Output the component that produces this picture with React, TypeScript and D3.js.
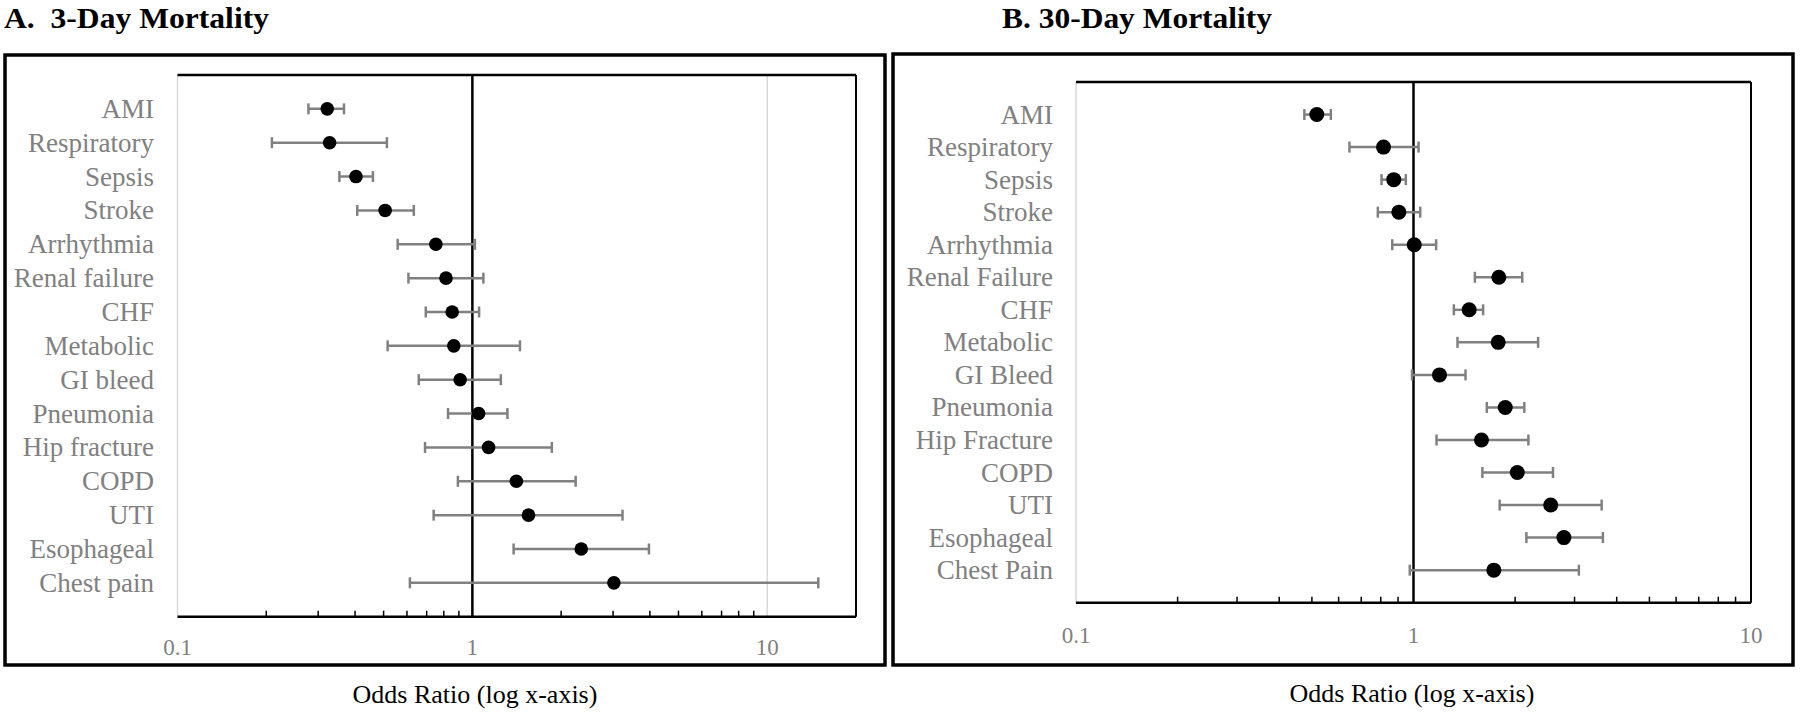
import React from "react";
import * as d3 from "d3";

const categoriesA = ["AMI", "Respiratory", "Sepsis", "Stroke", "Arrhythmia", "Renal failure", "CHF", "Metabolic", "GI bleed", "Pneumonia", "Hip fracture", "COPD", "UTI", "Esophageal", "Chest pain"];
const orA = [0.322, 0.328, 0.403, 0.506, 0.752, 0.814, 0.854, 0.865, 0.909, 1.05, 1.135, 1.41, 1.55, 2.34, 3.02];
const lowA = [0.278, 0.209, 0.354, 0.407, 0.558, 0.607, 0.695, 0.516, 0.658, 0.827, 0.691, 0.893, 0.739, 1.38, 0.614];
const highA = [0.367, 0.513, 0.46, 0.633, 1.02, 1.09, 1.054, 1.45, 1.249, 1.315, 1.86, 2.24, 3.23, 3.97, 14.9];

const categoriesB = ["AMI", "Respiratory", "Sepsis", "Stroke", "Arrhythmia", "Renal Failure", "CHF", "Metabolic", "GI Bleed", "Pneumonia", "Hip Fracture", "COPD", "UTI", "Esophageal", "Chest Pain"];
const orB = [0.517, 0.815, 0.874, 0.905, 1.005, 1.79, 1.462, 1.782, 1.194, 1.87, 1.59, 2.03, 2.55, 2.79, 1.73];
const lowB = [0.475, 0.646, 0.804, 0.784, 0.865, 1.52, 1.317, 1.35, 0.99, 1.649, 1.17, 1.6, 1.8, 2.16, 0.975];
const highB = [0.569, 1.035, 0.949, 1.047, 1.167, 2.1, 1.608, 2.34, 1.426, 2.13, 2.19, 2.59, 3.61, 3.64, 3.09];

const tickLabels = ["0.1", "1", "10"];
const minorTicks = [0.2, 0.3, 0.4, 0.5, 0.6, 0.7, 0.8, 0.9, 2, 3, 4, 5, 6, 7, 8, 9];

const SERIF = "'Liberation Serif', 'Times New Roman', serif";
const GRAY = "#808080";

type PanelProps = {
  title: string;
  titleX: number;
  titleW: number;
  frame: [number, number, number, number];
  plot: { left: number; right: number; top: number; bottom: number };
  xMax: number;
  cats: string[];
  or: number[];
  low: number[];
  high: number[];
  labelRight: number;
  tickY: number;
  axisTitleX: number;
  axisTitleY: number;
  dotR: number;
  grid10: boolean;
};

function Panel(p: PanelProps) {
  const x = d3.scaleLog().domain([0.1, p.xMax]).range([p.plot.left, p.plot.right]);
  const n = p.cats.length;
  const y = d3.scaleLinear().domain([0, n + 1]).range([p.plot.bottom, p.plot.top]);
  const rowY = (i: number) => y(n - i);
  const cap = 5.5;
  return (
    <g>
      <text x={p.titleX} y={28} fontFamily={SERIF} fontWeight="bold" fontSize={30} fill="#000" textLength={p.titleW} lengthAdjust="spacingAndGlyphs" style={{ whiteSpace: "pre" }}>
        {p.title}
      </text>
      <rect x={p.frame[0]} y={p.frame[1]} width={p.frame[2] - p.frame[0]} height={p.frame[3] - p.frame[1]} fill="#fff" stroke="#000" strokeWidth={3.5} />
      {/* left light gridline */}
      <line x1={p.plot.left} x2={p.plot.left} y1={p.plot.top} y2={p.plot.bottom} stroke="#d9d9d9" strokeWidth={1.5} />
      {p.grid10 && <line x1={x(10)} x2={x(10)} y1={p.plot.top} y2={p.plot.bottom} stroke="#d9d9d9" strokeWidth={1.5} />}
      {/* top and right borders */}
      <line x1={p.plot.left} x2={p.plot.right} y1={p.plot.top} y2={p.plot.top} stroke="#000" strokeWidth={2.5} />
      <line x1={p.plot.right} x2={p.plot.right} y1={p.plot.top} y2={p.plot.bottom} stroke="#000" strokeWidth={2} />
      {/* bottom axis */}
      <line x1={p.plot.left} x2={p.plot.right} y1={p.plot.bottom} y2={p.plot.bottom} stroke="#000" strokeWidth={2.5} />
      {minorTicks.filter((t) => t < p.xMax).map((t) => (
        <line key={t} x1={x(t)} x2={x(t)} y1={p.plot.bottom} y2={p.plot.bottom - 6} stroke="#000" strokeWidth={1.5} />
      ))}
      {/* x = 1 line */}
      <line x1={x(1)} x2={x(1)} y1={p.plot.top} y2={p.plot.bottom} stroke="#000" strokeWidth={2.5} />
      {tickLabels.map((t) => (
        <text key={t} x={x(+t)} y={p.tickY} textAnchor="middle" fontFamily={SERIF} fontSize={23} fill={GRAY}>
          {t}
        </text>
      ))}
      {p.cats.map((c, i) => (
        <text key={c} x={p.labelRight} y={rowY(i) + 9} textAnchor="end" fontFamily={SERIF} fontSize={27} fill={GRAY}>
          {c}
        </text>
      ))}
      {p.cats.map((c, i) => {
        const yy = rowY(i);
        return (
          <g key={"e" + c}>
            <line x1={x(p.low[i])} x2={x(p.high[i])} y1={yy} y2={yy} stroke={GRAY} strokeWidth={2.5} />
            <line x1={x(p.low[i])} x2={x(p.low[i])} y1={yy - cap} y2={yy + cap} stroke={GRAY} strokeWidth={2.5} />
            <line x1={x(p.high[i])} x2={x(p.high[i])} y1={yy - cap} y2={yy + cap} stroke={GRAY} strokeWidth={2.5} />
            <circle cx={x(p.or[i])} cy={yy} r={p.dotR} fill="#000" />
          </g>
        );
      })}
      <text x={p.axisTitleX} y={p.axisTitleY} textAnchor="middle" fontFamily={SERIF} fontSize={26} fill="#000">
        Odds Ratio (log x-axis)
      </text>
    </g>
  );
}

export default function App() {
  return (
    <svg width={1800} height={712} style={{ position: "absolute", left: 0, top: 0, background: "#fff" }}>
      <rect x={0} y={0} width={1800} height={712} fill="#fff" />
      <Panel
        title={"A.  3-Day Mortality"}
        titleX={4}
        titleW={265}
        frame={[5, 55, 885, 665]}
        plot={{ left: 177.5, right: 856, top: 75, bottom: 616.7 }}
        xMax={20}
        cats={categoriesA}
        or={orA}
        low={lowA}
        high={highA}
        labelRight={154}
        tickY={655}
        axisTitleX={475}
        axisTitleY={703}
        dotR={6.8}
        grid10={true}
      />
      <Panel
        title={"B. 30-Day Mortality"}
        titleX={1002}
        titleW={270}
        frame={[893, 54, 1793, 665]}
        plot={{ left: 1076, right: 1751, top: 82, bottom: 602.7 }}
        xMax={10}
        cats={categoriesB}
        or={orB}
        low={lowB}
        high={highB}
        labelRight={1053}
        tickY={643}
        axisTitleX={1412}
        axisTitleY={702}
        dotR={7.5}
        grid10={false}
      />
    </svg>
  );
}
